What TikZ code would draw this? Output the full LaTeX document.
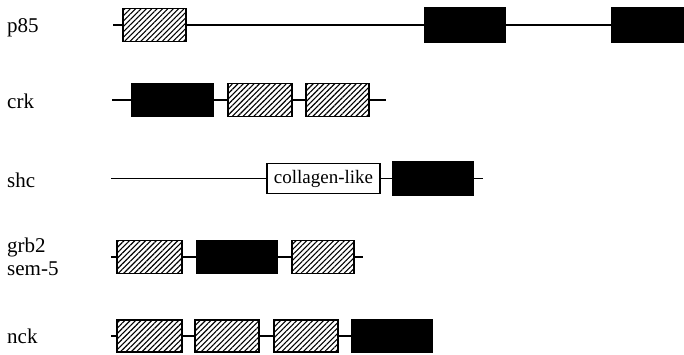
\documentclass[tikz,border=0pt]{standalone}
\usepackage{fontspec}
\setmainfont{Liberation Serif}
\usetikzlibrary{patterns.meta}
\begin{document}
\begin{tikzpicture}[x=1pt,y=-1pt,
  box/.style={draw=black, line width=1.6pt, inner sep=0pt, anchor=center},
  hatch/.style={box, minimum height=33pt,
    pattern={Lines[angle=45,distance=3.8pt,line width=1.1pt]}},
  blk/.style={box, minimum height=33pt, fill=black},
  plain/.style={box, fill=white, minimum height=30pt},
  conn/.style={line width=1.5pt},
  lbl/.style={anchor=base west, inner sep=0pt, font=\fontsize{21}{23}\selectfont}]
\useasboundingbox (0,0) rectangle (684,354);

% labels
\node[lbl] (lp85) at (7,32) {p85};
\node[lbl] (lcrk) at (7,108) {crk};
\node[lbl] (lshc) at (7,187) {shc};
\node[lbl] (lgrb) at (7,252) {grb2};
\node[lbl] (lsem) at (7,275) {sem-5};
\node[lbl] (lnck) at (7,343) {nck};

% p85
\coordinate (ps) at (113,25);
\node[hatch, minimum width=63pt] (p1) at (154.5,25) {};
\node[blk, minimum width=80pt, minimum height=34pt] (p2) at (465,25) {};
\node[blk, minimum width=72pt, minimum height=34pt] (p3) at (648,25) {};
\draw[conn] (ps) -- (p1) -- (p2) -- (p3);

% crk
\coordinate (cs) at (112,100);
\coordinate (ce) at (386,100);
\node[blk, minimum width=81pt] (c1) at (172.5,100) {};
\node[hatch, minimum width=64pt] (c2) at (260,100) {};
\node[hatch, minimum width=63pt] (c3) at (337.5,100) {};
\draw[conn] (cs) -- (c1) -- (c2) -- (c3) -- (ce);

% shc
\coordinate (ss) at (111,178.5);
\coordinate (se) at (483,178.5);
\node[plain, minimum width=113pt, font=\fontsize{19}{21}\selectfont] (s1) at (323.5,178.5) {collagen-like};
\node[blk, minimum width=80pt] (s2) at (433,178.5) {};
\draw[conn] (ss) -- (s1) -- (s2) -- (se);

% grb2 / sem-5
\coordinate (gs) at (111,257);
\coordinate (ge) at (363,257);
\node[hatch, minimum width=65pt] (g1) at (149.5,257) {};
\node[blk, minimum width=80pt] (g2) at (237,257) {};
\node[hatch, minimum width=62pt] (g3) at (323,257) {};
\draw[conn] (gs) -- (g1) -- (g2) -- (g3) -- (ge);

% nck
\coordinate (ns) at (111,336);
\node[hatch, minimum width=65pt, minimum height=32pt] (n1) at (149.5,336) {};
\node[hatch, minimum width=64pt, minimum height=32pt] (n2) at (227,336) {};
\node[hatch, minimum width=64pt, minimum height=32pt] (n3) at (306,336) {};
\node[blk, minimum width=80pt, minimum height=32pt] (n4) at (392,336) {};
\draw[conn] (ns) -- (n1) -- (n2) -- (n3) -- (n4);
\end{tikzpicture}
\end{document}
